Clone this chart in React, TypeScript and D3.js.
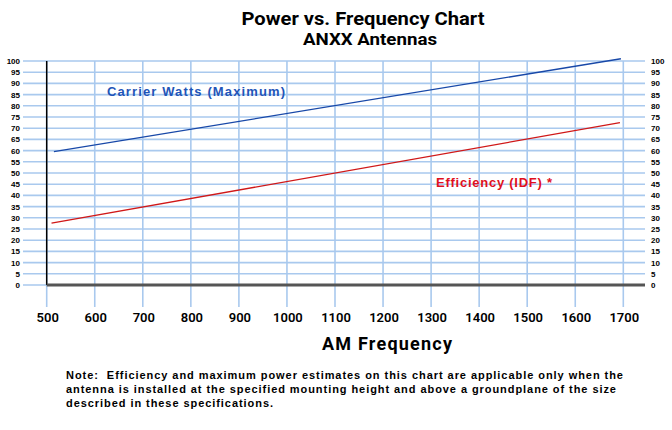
import React from "react";
import * as d3 from "d3";

const xTicks = [500, 600, 700, 800, 900, 1000, 1100, 1200, 1300, 1400, 1500, 1600, 1700];
const yTicks = [0, 5, 10, 15, 20, 25, 30, 35, 40, 45, 50, 55, 60, 65, 70, 75, 80, 85, 90, 95, 100];
const carrierFreq = [515, 1695];
const carrierWatts = [59.5, 101];
const efficiencyFreq = [510, 1693];
const efficiencyVals = [27.6, 72.5];
const noteLines = [
  "Note:  Efficiency and maximum power estimates on this chart are applicable only when the",
  "antenna is installed at the specified mounting height and above a groundplane of the size",
  "described in these specifications.",
];
const noteWidths = [557, 550, 207];

export default function App() {
  const W = 672, H = 430;
  const x = d3.scaleLinear().domain([500, 1700]).range([46.7, 623.3]);
  const y = d3.scaleLinear().domain([0, 100]).range([285, 61]);
  const grid = "#a9c9ee";
  const line = d3.line<[number, number]>().x(d => x(d[0])).y(d => y(d[1]));
  const blue = carrierFreq.map((f, i) => [f, carrierWatts[i]] as [number, number]);
  const red = efficiencyFreq.map((f, i) => [f, efficiencyVals[i]] as [number, number]);
  const sans = "Roboto, 'Liberation Sans', sans-serif";
  const arial = "'Liberation Sans', Arial, sans-serif";
  return (
    <svg width={W} height={H} style={{ position: "absolute", left: 0, top: 0, background: "#fff" }}>
      <rect width={W} height={H} fill="#fff" />
      <text x={363} y={25} textAnchor="middle" fontFamily={sans} fontWeight="bold" fontSize={19} textLength={243} lengthAdjust="spacingAndGlyphs">Power vs. Frequency Chart</text>
      <text x={370} y={45} textAnchor="middle" fontFamily={sans} fontWeight="bold" fontSize={17} textLength={134} lengthAdjust="spacingAndGlyphs">ANXX Antennas</text>
      {yTicks.map(t => (
        <line key={"h" + t} x1={23} x2={645} y1={y(t)} y2={y(t)} stroke={grid} strokeWidth={1.6} />
      ))}
      {xTicks.map(t => (
        <line key={"v" + t} x1={x(t)} x2={x(t)} y1={61} y2={307} stroke={grid} strokeWidth={1.6} />
      ))}
      <line x1={x(500)} x2={x(500)} y1={61} y2={285} stroke="#000" strokeWidth={1.5} />
      <line x1={x(500)} x2={645} y1={285} y2={285} stroke="#555" strokeWidth={3} />
      {yTicks.map(t => (
        <text key={"yl" + t} x={20} y={y(t) + 3} textAnchor="end" fontFamily={arial} fontWeight="bold" fontSize={8}>
          {t}
        </text>
      ))}
      {yTicks.map(t => (
        <text key={"yr" + t} x={651} y={y(t) + 3} textAnchor="start" fontFamily={arial} fontWeight="bold" fontSize={8}>
          {t}
        </text>
      ))}
      {xTicks.map(t => (
        <text key={"xl" + t} x={x(t) + 1} y={322} textAnchor="middle" fontFamily={sans} fontWeight={600} fontSize={13} fill="#000">
          {t}
        </text>
      ))}
      <text x={387} y={350} textAnchor="middle" fontFamily={sans} fontWeight="bold" fontSize={18} textLength={130} lengthAdjust="spacing">AM Frequency</text>
      <path d={line(blue) || ""} fill="none" stroke="#1848a8" strokeWidth={1.3} />
      <path d={line(red) || ""} fill="none" stroke="#d01818" strokeWidth={1.3} />
      <text x={107} y={96} fontFamily={arial} fontWeight="bold" fontSize={13} fill="#1f55b8" textLength={178} lengthAdjust="spacing">Carrier Watts (Maximum)</text>
      <text x={436} y={187} fontFamily={arial} fontWeight="bold" fontSize={13} fill="#e01020" textLength={116} lengthAdjust="spacing">Efficiency (IDF) *</text>
      {noteLines.map((l, i) => (
        <text key={"n" + i} x={66} y={379 + i * 14} fontFamily={arial} fontWeight="bold" fontSize={11} textLength={noteWidths[i]} lengthAdjust="spacing" style={{ whiteSpace: "pre" }}>
          {l}
        </text>
      ))}
    </svg>
  );
}
